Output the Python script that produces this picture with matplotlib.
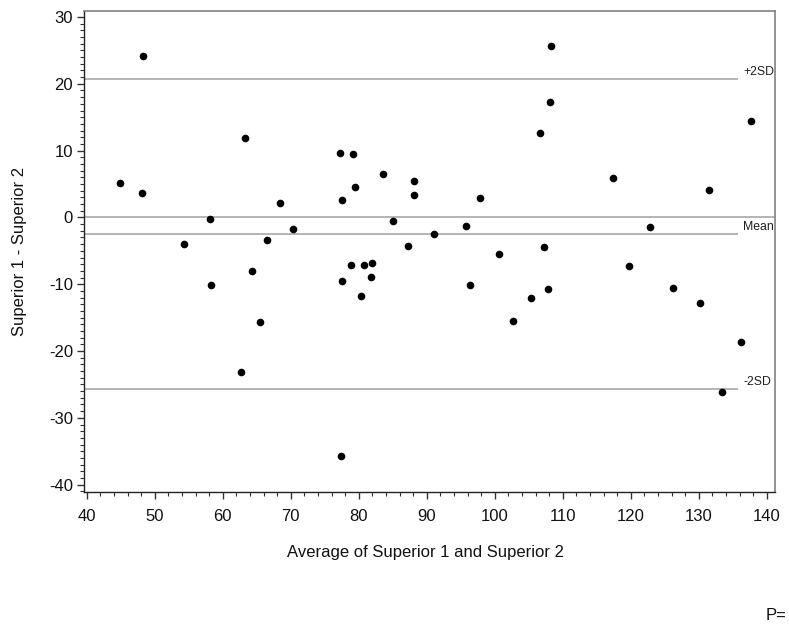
import matplotlib
matplotlib.use("Agg")
import matplotlib.pyplot as plt
from matplotlib.ticker import MultipleLocator

plt.rcParams['font.family'] = ['Liberation Sans', 'DejaVu Sans']
plt.rcParams['axes.unicode_minus'] = False

# Average of the two readings (x) and their difference (y)
average = [44.85, 48.3, 48.08, 54.24, 58.1, 58.2, 63.2, 64.3, 66.5, 68.4,
           70.4, 65.45, 62.7, 77.4, 77.2, 79.1, 83.6, 79.5, 77.6, 85.0,
           78.8, 80.8, 81.95, 77.6, 81.85, 80.4, 88.06, 88.06, 97.8, 95.7,
           91.1, 87.2, 100.6, 107.2, 96.3, 105.3, 102.7, 107.8, 106.7, 108.3,
           108.1, 137.7, 117.4, 131.5, 122.8, 119.8, 126.2, 130.1, 136.2, 133.4]
difference = [5.19, 24.2, 3.69, -3.96, -0.3, -10.1, 11.9, -7.95, -3.45, 2.19,
              -1.8, -15.65, -23.15, -35.7, 9.69, 9.54, 6.54, 4.54, 2.55, -0.6,
              -7.15, -7.15, -6.8, -9.45, -8.95, -11.8, 5.4, 3.39, 2.9, -1.26,
              -2.46, -4.3, -5.46, -4.45, -10.1, -12.1, -15.45, -10.75, 12.68, 25.6,
              17.33, 14.4, 5.85, 4.05, -1.45, -7.3, -10.55, -12.74, -18.65, -26.2]

# Reference levels
limit_labels = ['+2SD', 'Mean', '-2SD']
limit_values = [20.7, -2.5, -25.7]

x_ticks = [40, 50, 60, 70, 80, 90, 100, 110, 120, 130, 140]
y_ticks = [-40, -30, -20, -10, 0, 10, 20, 30]

W, H = 789, 629
fig = plt.figure(figsize=(W / 100, H / 100), dpi=100)
ax = fig.add_axes([84 / W, 1 - 492 / H, (775 - 84) / W, (492 - 11) / H])

x_lo, x_hi = 39.6, 141.2
ax.set_xlim(x_lo, x_hi)
ax.set_ylim(-41.1, 30.9)

line_grey = '#a0a0a0'
ax.axhline(0, color=line_grey, lw=1.1, zorder=1)
line_end = 135.8
for lab, val in zip(limit_labels, limit_values):
    ax.plot([x_lo, line_end], [val, val], color=line_grey, lw=1.1, zorder=1,
            solid_capstyle='butt')
    ax.text(line_end + 0.7, val + 0.1, lab, fontsize=8.8, color='#202020',
            ha='left', va='bottom')

ax.plot(average, difference, 'o', color='black', markersize=5.5,
        markeredgewidth=0, zorder=3)

ax.set_xticks(x_ticks)
ax.set_yticks(y_ticks)
ax.xaxis.set_minor_locator(MultipleLocator(2))
ax.yaxis.set_minor_locator(MultipleLocator(1))
ax.tick_params(which='major', direction='out', length=5, width=1,
               color='#333333', labelsize=12, labelcolor='#111111')
ax.tick_params(axis='x', which='major', pad=7)
ax.tick_params(axis='y', which='major', pad=3)
ax.tick_params(which='minor', direction='out', length=3, width=0.8,
               color='#333333')

for side in ('left', 'bottom'):
    ax.spines[side].set_color('#222222')
    ax.spines[side].set_linewidth(1.0)
for side in ('top', 'right'):
    ax.spines[side].set_color('#808080')
    ax.spines[side].set_linewidth(1.2)

fig.text(426 / W, 1 - 553 / H, 'Average of Superior 1 and Superior 2',
         fontsize=12, ha='center', va='center', color='#111111')
fig.text(20 / W, 1 - 251 / H, 'Superior 1 - Superior 2', fontsize=12,
         rotation=90, ha='center', va='center', color='#111111')
fig.text(766 / W, 1 - 620 / H, 'P=', fontsize=12, ha='left',
         va='baseline', color='#111111')

fig.savefig('out.png', dpi=100)
